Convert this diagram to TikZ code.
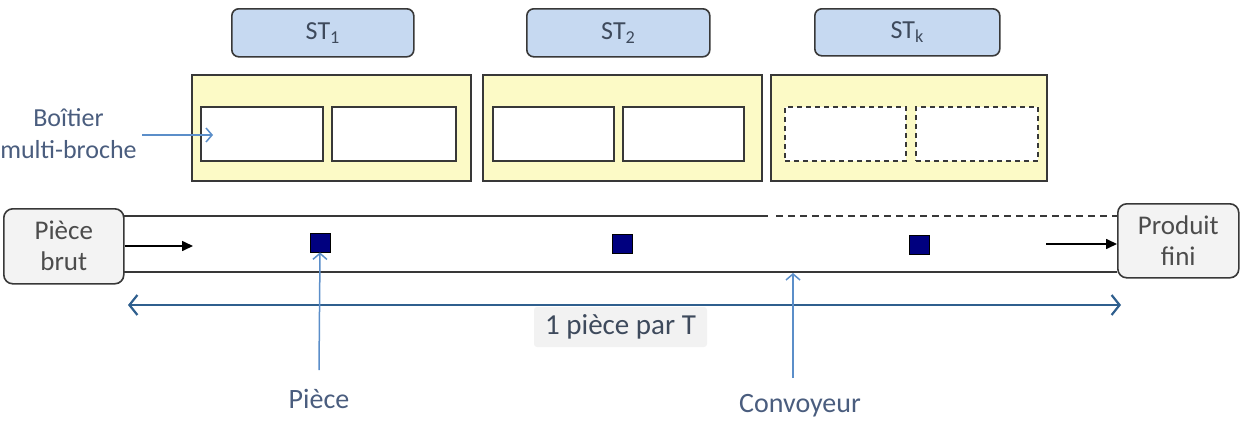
\documentclass[tikz,border=0pt]{standalone}
\usepackage{fontspec}
\setmainfont{Carlito}
\usetikzlibrary{arrows.meta}
\definecolor{stblue}{HTML}{C6D9F1}
\definecolor{yel}{HTML}{FCFAC6}
\definecolor{lbl}{HTML}{4A5D7E}
\definecolor{sttext}{HTML}{3E4A5C}
\definecolor{arr}{HTML}{5B8EC9}
\definecolor{darr}{HTML}{2F5F8E}
\definecolor{navyp}{HTML}{00007F}
\definecolor{bord}{HTML}{383838}
\definecolor{endfill}{HTML}{F3F3F3}
\definecolor{lblfill}{HTML}{F2F2F2}
\begin{document}
\begin{tikzpicture}[x=1pt,y=-1pt,
  stbox/.style={draw=bord, line width=1.6pt, rounded corners=7pt, fill=stblue, anchor=north west, inner sep=0pt, font=\fontsize{26}{28}\selectfont, text=sttext},
  yelbox/.style={draw=bord, line width=1.6pt, fill=yel, anchor=north west, inner sep=0pt},
  slot/.style={draw=bord, line width=1.6pt, fill=white, anchor=north west, inner sep=0pt, minimum height=54pt},
  slotd/.style={slot, dash pattern=on 5pt off 4pt},
  endbox/.style={draw=bord, line width=1.6pt, rounded corners=9pt, fill=endfill, anchor=north west, inner sep=0pt, align=center, font=\fontsize{27}{31}\selectfont, text=bord!90},
  piece/.style={draw=black, line width=0.8pt, fill=navyp, inner sep=0pt, minimum width=20pt, minimum height=19pt},
  conv/.style={draw=bord, line width=1.6pt},
  blk/.style={draw=black, line width=1.6pt, -{Triangle[length=11pt,width=10pt]}},
  lblarr/.style={draw=arr, line width=1.5pt, -{Straight Barb[length=6pt,width=14pt]}},
  lbltext/.style={text=lbl, font=\fontsize{28}{32}\selectfont, align=center}
]
\useasboundingbox (0,0) rectangle (1246,423);
% station headers
\node[stbox, minimum width=182pt, minimum height=48pt] (st1) at (231,8) {ST\textsubscript{1}};
\node[stbox, minimum width=183pt, minimum height=48pt] (st2) at (526,8) {ST\textsubscript{2}};
\node[stbox, minimum width=185pt, minimum height=47pt] (stk) at (814,8) {ST\textsubscript{k}};
% multi-spindle housings
\node[yelbox, minimum width=279pt, minimum height=106pt] (y1) at (191,74) {};
\node[yelbox, minimum width=279pt, minimum height=106pt] (y2) at (482,74) {};
\node[yelbox, minimum width=276pt, minimum height=106pt] (y3) at (770,74) {};
\node[slot, minimum width=122pt] (s11) at (200,106) {};
\node[slot, minimum width=124pt] (s12) at (331,106) {};
\node[slot, minimum width=121pt] (s21) at (492,106) {};
\node[slot, minimum width=121pt] (s22) at (622,106) {};
\node[slotd, minimum width=121pt] (s31) at (784,106) {};
\node[slotd, minimum width=122pt] (s32) at (915,106) {};
% Boitier label
\node[lbltext, font=\fontsize{26}{32}\selectfont] (boit) at (68.5,134) {Boîtier\\multi-broche};
\coordinate (boitA) at (142,135);
\coordinate (boitB) at (213,135);
\draw[lblarr] (boitA) -- (boitB);
% conveyor
\node[endbox, minimum width=120pt, minimum height=75pt] (pb) at (3,208) {Pièce\\brut};
\node[endbox, minimum width=121pt, minimum height=74pt] (pf) at (1117,203) {Produit\\fini};
\coordinate (ctl) at (123,216);
\coordinate (ctm) at (768,216);
\coordinate (ctd) at (776,216);
\coordinate (ctr) at (1117,216);
\coordinate (cbl) at (123,272);
\coordinate (cbr) at (1117,272);
\draw[conv] (ctl) -- (ctm);
\draw[conv, dash pattern=on 7pt off 5pt] (ctd) -- (ctr);
\draw[conv] (cbl) -- (cbr);
\coordinate (inA) at (193,246);
\draw[blk] (pb.east |- inA) -- (inA);
\coordinate (outA) at (1046,244);
\draw[blk] (outA) -- (pf.west |- outA);
% pieces
\node[piece] (p1) at (320,242.5) {};
\node[piece] (p2) at (622,244) {};
\node[piece] (p3) at (919.5,244.5) {};
% cadence arrow
\coordinate (cadL) at (128,305);
\coordinate (cadR) at (1121,305);
\draw[draw=darr, line width=2.2pt, {Straight Barb[length=8pt,width=20pt]}-{Straight Barb[length=8pt,width=20pt]}] (cadL) -- (cadR);
\node[fill=lblfill, rounded corners=3pt, minimum width=173pt, minimum height=40pt, inner sep=0pt, text=sttext, font=\fontsize{29}{32}\selectfont] (cad) at (620.5,327) {1 pièce par T};
% Piece label
\node[lbltext] (lpiece) at (319,399) {Pièce};
\coordinate (lpA) at (319,370);
\draw[lblarr] (lpA) -- (p1.south);
% Convoyeur label
\node[lbltext] (lconv) at (800,406) {Convoyeur};
\coordinate (lcA) at (793,378);
\coordinate (lcB) at (793,273);
\draw[lblarr] (lcA) -- (lcB);
\end{tikzpicture}
\end{document}
